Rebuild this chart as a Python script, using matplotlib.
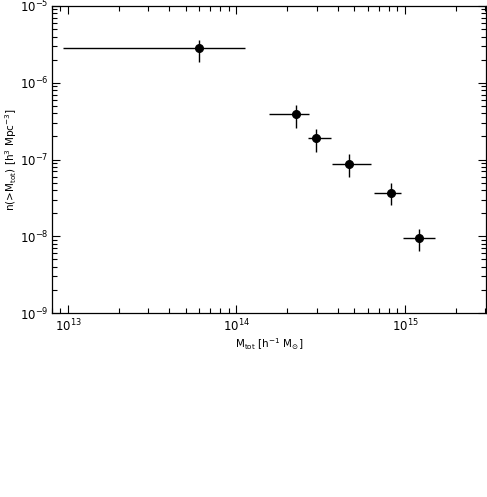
import matplotlib
matplotlib.use("Agg")
import matplotlib.pyplot as plt
import numpy as np

# data
mass = [6.0e13, 2.27e14, 2.96e14, 4.67e14, 8.3e14, 1.22e15]
mass_lo = [9.4e12, 1.56e14, 2.66e14, 3.67e14, 6.57e14, 9.74e14]
mass_hi = [1.12e14, 2.68e14, 3.62e14, 6.25e14, 9.46e14, 1.50e15]
n_gt = [2.8e-6, 3.86e-7, 1.9e-7, 8.8e-8, 3.7e-8, 9.6e-9]
n_lo = [1.84e-6, 2.59e-7, 1.27e-7, 6.0e-8, 2.57e-8, 6.5e-9]
n_hi = [3.58e-6, 5.1e-7, 2.49e-7, 1.19e-7, 5.0e-8, 1.26e-8]

plt.rcParams['font.family'] = ['DejaVu Sans']
plt.rcParams['mathtext.fontset'] = 'dejavusans'

fig = plt.figure(figsize=(4.87, 4.97), dpi=100)
ax = fig.add_axes([0.106, 0.370, 0.892, 0.618])

x = np.array(mass)
y = np.array(n_gt)
xerr = np.array([x - np.array(mass_lo), np.array(mass_hi) - x])
yerr = np.array([y - np.array(n_lo), np.array(n_hi) - y])

ax.errorbar(x, y, xerr=xerr, yerr=yerr, fmt='o', color='black',
            markersize=5.5, elinewidth=1.0, capsize=0)

ax.set_xscale('log')
ax.set_yscale('log')
ax.set_xlim(8e12, 3.03e15)
ax.set_ylim(1e-9, 1e-5)

ax.tick_params(which='both', direction='in', top=True, right=True,
               labelsize=8.5, width=0.8)
ax.tick_params(axis='y', which='major', pad=2)
ax.tick_params(which='major', length=6)
ax.tick_params(which='minor', length=3.5)
for s in ax.spines.values():
    s.set_linewidth(0.9)

ax.set_xlabel(r'M$_{\rm tot}$ [h$^{-1}$ M$_{\odot}$]', fontsize=7.5, labelpad=1)
ax.set_ylabel(r'n(>M$_{\rm tot}$) [h$^{3}$ Mpc$^{-3}$]', fontsize=7.5, labelpad=1)

fig.savefig('out.png', dpi=100)
